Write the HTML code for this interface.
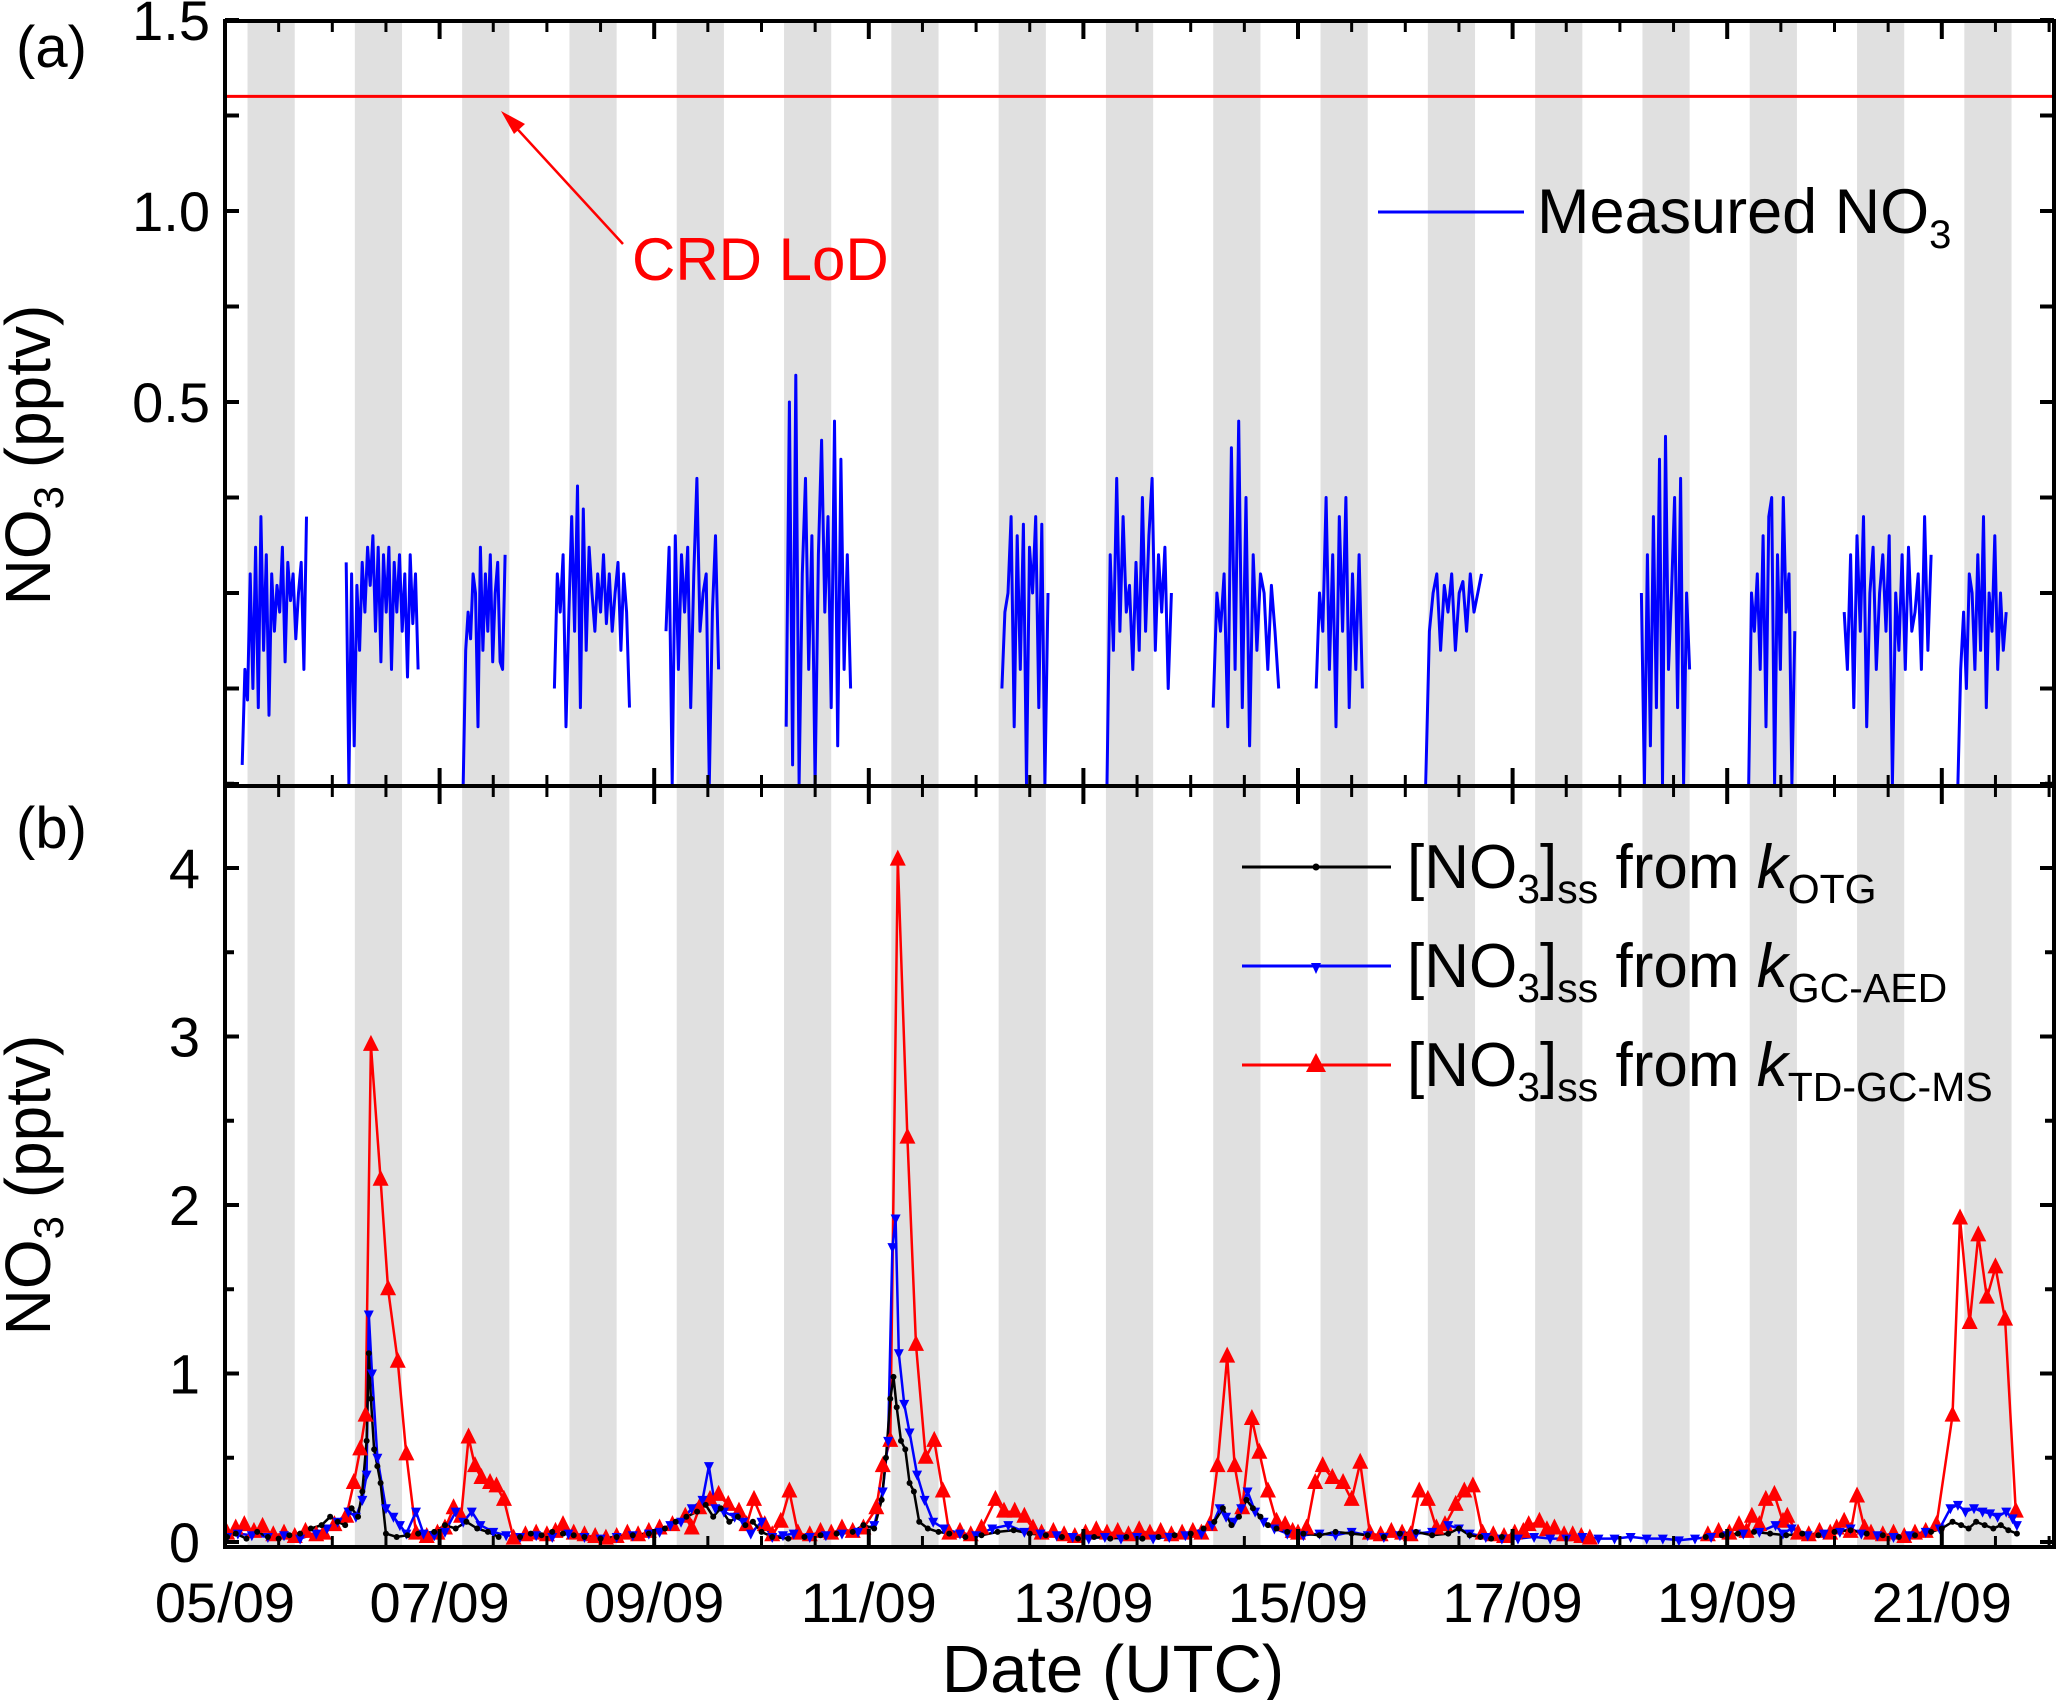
<!DOCTYPE html>
<html><head><meta charset="utf-8"><style>
html,body{margin:0;padding:0;background:#fff}
svg{display:block;font-family:"Liberation Sans",Arial,sans-serif}
</style></head><body>
<svg id="chart" width="2067" height="1700" viewBox="0 0 2067 1700">
<defs>
<clipPath id="clipA"><rect x="225" y="21" width="1829" height="765"/></clipPath>
<clipPath id="clipB"><rect x="225" y="786" width="1829" height="760"/></clipPath>
</defs>
<g id="bands"></g>
<g id="panelA" clip-path="url(#clipA)"></g>
<g id="panelB" clip-path="url(#clipB)"></g>
<g id="axes"></g>
<g id="labels" font-size="56" fill="#000"></g>
</svg>
<script>
// ---- data ----
const nightStart = 0.21, nightEnd = 0.65;
const nightDays = [5,6,7,8,9,10,11,12,13,14,15,16,17,18,19,20,21];
const dateTicks = ["05/09","07/09","09/09","11/09","13/09","15/09","17/09","19/09","21/09"];
const dateTickDays = [5,7,9,11,13,15,17,19,21];
const lodValue = 1.3;
const measStart = [5.16,6.13,7.22,8.07,9.11,10.23,12.24,13.22,14.21,15.17,16.19,18.20,19.20,20.09,21.15];
const measEnd   = [5.76,6.80,7.61,8.77,9.60,10.83,12.67,13.82,14.82,15.60,16.71,18.65,19.63,20.90,21.60];
const meas1 = [-0.45,-0.2,-0.28,0.05,-0.25,0.12,-0.3,0.2,-0.15,0.1,-0.32,0.05,-0.1,0.02,-0.05,0.12,-0.18,0.08,-0.02,0.05,-0.12,0.0,0.08,-0.2,0.2];
const meas2 = [0.08,-0.5,0.05,-0.4,0.02,-0.15,0.08,-0.05,0.12,0.02,0.15,-0.1,0.12,-0.18,0.1,-0.05,0.12,-0.2,0.08,-0.05,0.1,-0.1,0.05,-0.22,0.1,-0.08,0.05,-0.2];
const meas3 = [-0.5,-0.15,-0.05,-0.12,0.05,0.0,-0.35,0.12,-0.15,0.05,-0.1,0.1,-0.18,0.0,0.08,-0.18,-0.2,0.1];
const meas4 = [-0.25,0.05,-0.05,0.1,-0.35,-0.05,0.2,-0.1,0.28,-0.3,0.22,-0.15,0.12,0.0,-0.1,0.05,-0.05,0.1,-0.08,0.05,-0.1,0.0,0.08,-0.15,0.05,-0.05,-0.3];
const meas5 = [-0.1,0.12,-0.5,0.15,-0.2,0.1,-0.05,0.12,-0.3,0.05,0.3,-0.1,0.0,0.05,-0.5,-0.05,0.15,-0.2];
const meas6 = [-0.35,0.5,-0.45,0.57,-0.5,0.05,0.3,-0.2,0.15,-0.5,0.1,0.4,-0.05,0.2,-0.3,0.45,-0.4,0.35,-0.2,0.1,-0.25];
const meas7 = [-0.25,-0.05,0.0,0.2,-0.35,0.15,-0.2,0.18,-0.5,0.12,0.0,0.2,-0.3,0.18,-0.5,0.0];
const meas8 = [-0.5,0.1,-0.15,0.3,-0.1,0.2,-0.05,0.02,-0.2,0.08,-0.15,0.25,-0.1,0.15,0.3,-0.15,0.1,-0.05,0.12,-0.25,0.0];
const meas9 = [-0.3,0.0,-0.1,0.05,-0.35,0.38,-0.2,0.45,-0.3,0.25,-0.4,0.1,-0.15,0.05,0.0,-0.2,0.02,-0.1,-0.25];
const meas10 = [-0.25,0.0,-0.1,0.25,-0.2,0.1,-0.35,0.2,-0.1,0.25,-0.3,0.05,-0.2,0.1,-0.25];
const meas11 = [-0.5,-0.1,0.0,0.05,-0.15,0.02,-0.05,0.05,-0.15,0.0,0.03,-0.1,0.05,-0.05,0.0,0.05];
const meas12 = [0.0,-0.5,0.1,-0.4,0.2,-0.3,0.35,-0.5,0.41,-0.2,0.0,0.25,-0.3,0.3,-0.5,0.0,-0.2];
const meas13 = [-0.5,0.0,-0.1,0.05,-0.2,0.15,-0.35,0.2,0.25,-0.5,0.1,-0.2,0.25,-0.05,0.05,-0.5,-0.1];
const meas14 = [-0.05,-0.2,0.1,-0.3,0.15,-0.1,0.2,-0.35,0.0,0.12,-0.2,0.0,0.1,-0.1,0.15,-0.5,0.0,-0.15,0.1,-0.2,0.12,-0.1,-0.05,0.05,-0.2,0.2,-0.15,0.1];
const meas15 = [-0.5,-0.2,-0.05,-0.25,0.05,0.0,-0.2,0.1,-0.15,0.2,-0.3,0.0,-0.1,0.15,-0.2,0.0,-0.15,-0.05];
const measVals = [meas1,meas2,meas3,meas4,meas5,meas6,meas7,meas8,meas9,meas10,meas11,meas12,meas13,meas14,meas15];

const redT = [5.02,5.10,5.18,5.27,5.35,5.45,5.55,5.65,5.75,5.85,5.92,6.02,6.13,6.20,6.26,6.31,6.36,6.45,6.52,6.61,6.69,6.78,6.88,6.98,7.05,7.13,7.20,7.27,7.33,7.39,7.47,7.53,7.60,7.69,7.80,7.90,8.00,8.08,8.15,8.25,8.35,8.45,8.55,8.65,8.75,8.85,8.95,9.05,9.17,9.29,9.35,9.42,9.52,9.60,9.69,9.79,9.86,9.93,10.03,10.10,10.18,10.26,10.34,10.45,10.55,10.65,10.75,10.85,10.95,11.07,11.13,11.20,11.27,11.36,11.44,11.53,11.61,11.69,11.75,11.85,11.95,12.05,12.18,12.26,12.36,12.45,12.53,12.61,12.72,12.82,12.92,13.02,13.12,13.22,13.32,13.42,13.52,13.62,13.72,13.82,13.92,14.02,14.10,14.18,14.25,14.34,14.41,14.48,14.57,14.64,14.72,14.80,14.88,14.95,15.00,15.08,15.16,15.23,15.32,15.42,15.50,15.58,15.67,15.77,15.87,15.97,16.05,16.13,16.21,16.29,16.37,16.47,16.55,16.63,16.72,16.82,16.92,17.02,17.10,17.15,17.25,17.32,17.39,17.48,17.56,17.64,17.72,18.30,18.82,18.92,19.02,19.11,19.18,19.23,19.30,19.36,19.44,19.52,19.56,19.66,19.76,19.86,19.96,20.02,20.09,20.15,20.21,20.28,20.34,20.45,20.55,20.65,20.75,20.85,20.95,21.10,21.17,21.26,21.34,21.42,21.50,21.59,21.69];
const redV = [0.05,0.08,0.1,0.06,0.09,0.04,0.05,0.03,0.06,0.04,0.05,0.1,0.15,0.35,0.55,0.75,2.95,2.15,1.5,1.07,0.52,0.05,0.03,0.05,0.08,0.2,0.15,0.62,0.45,0.38,0.35,0.33,0.25,0.02,0.04,0.05,0.04,0.06,0.1,0.05,0.04,0.03,0.02,0.03,0.05,0.04,0.06,0.08,0.1,0.15,0.08,0.2,0.25,0.28,0.22,0.18,0.1,0.25,0.1,0.04,0.12,0.3,0.05,0.04,0.06,0.05,0.08,0.06,0.08,0.2,0.45,0.6,4.05,2.4,1.17,0.5,0.6,0.3,0.05,0.06,0.04,0.08,0.25,0.18,0.18,0.15,0.08,0.05,0.06,0.04,0.03,0.05,0.07,0.05,0.06,0.04,0.07,0.05,0.06,0.04,0.05,0.06,0.05,0.1,0.45,1.1,0.45,0.2,0.73,0.53,0.3,0.12,0.1,0.06,0.05,0.08,0.35,0.45,0.38,0.35,0.25,0.47,0.05,0.04,0.06,0.05,0.04,0.3,0.25,0.08,0.1,0.22,0.3,0.33,0.05,0.04,0.03,0.05,0.06,0.1,0.12,0.07,0.08,0.04,0.04,0.03,0.02,null,0.04,0.06,0.05,0.1,0.06,0.15,0.1,0.25,0.28,0.12,0.15,0.05,0.04,0.06,0.05,0.08,0.12,0.06,0.27,0.08,0.05,0.04,0.05,0.03,0.05,0.06,0.1,0.75,1.92,1.3,1.82,1.45,1.63,1.32,0.18];

const blueT = [5.02,5.12,5.25,5.40,5.55,5.70,5.85,5.95,6.05,6.15,6.22,6.28,6.32,6.34,6.37,6.42,6.50,6.57,6.63,6.69,6.78,6.85,6.95,7.05,7.15,7.22,7.30,7.38,7.50,7.62,7.75,7.90,8.05,8.20,8.35,8.50,8.65,8.80,8.95,9.05,9.15,9.25,9.35,9.45,9.51,9.57,9.65,9.75,9.83,9.90,10.00,10.10,10.20,10.30,10.45,10.60,10.75,10.90,11.05,11.13,11.18,11.22,11.25,11.28,11.33,11.38,11.45,11.52,11.60,11.70,11.85,12.00,12.15,12.30,12.45,12.60,12.75,12.90,13.05,13.20,13.35,13.50,13.65,13.80,13.95,14.10,14.20,14.27,14.33,14.40,14.47,14.53,14.60,14.68,14.78,14.90,15.05,15.20,15.35,15.50,15.65,15.80,15.95,16.10,16.25,16.40,16.50,16.60,16.75,16.90,17.05,17.20,17.35,17.50,17.65,17.80,17.95,18.10,18.25,18.40,18.55,18.70,18.85,19.00,19.15,19.30,19.45,19.52,19.60,19.75,19.90,20.05,20.15,20.25,20.40,20.55,20.70,20.85,20.98,21.08,21.15,21.22,21.30,21.38,21.45,21.52,21.60,21.66,21.70];
const blueV = [0.03,0.05,0.04,0.03,0.04,0.02,0.05,0.08,0.12,0.18,0.15,0.25,0.4,1.35,1.0,0.5,0.2,0.15,0.1,0.05,0.18,0.05,0.04,0.06,0.18,0.12,0.18,0.1,0.06,0.04,0.03,0.04,0.03,0.05,0.03,0.02,0.03,0.04,0.05,0.06,0.1,0.12,0.2,0.25,0.45,0.2,0.18,0.15,0.12,0.05,0.12,0.03,0.04,0.05,0.03,0.04,0.05,0.06,0.1,0.3,0.6,1.75,1.92,1.12,0.82,0.65,0.4,0.25,0.12,0.08,0.05,0.04,0.08,0.1,0.06,0.05,0.04,0.03,0.02,0.03,0.02,0.03,0.02,0.03,0.04,0.05,0.1,0.2,0.15,0.12,0.2,0.3,0.18,0.12,0.08,0.05,0.04,0.05,0.04,0.06,0.04,0.03,0.04,0.05,0.06,0.1,0.08,0.05,0.03,0.02,0.02,0.03,0.02,0.02,0.03,0.02,0.02,0.03,0.02,0.02,0.01,0.02,0.03,0.04,0.05,0.06,0.1,0.05,0.08,0.04,0.05,0.06,0.08,0.05,0.04,0.03,0.04,0.06,0.08,0.2,0.22,0.18,0.2,0.18,0.17,0.15,0.18,0.14,0.1];

const blackT = [5.02,5.10,5.20,5.30,5.40,5.50,5.60,5.70,5.80,5.90,5.98,6.05,6.12,6.18,6.24,6.28,6.32,6.34,6.36,6.39,6.42,6.45,6.50,6.60,6.70,6.80,6.95,7.05,7.15,7.25,7.35,7.45,7.55,7.65,7.75,7.85,7.95,8.05,8.15,8.25,8.35,8.50,8.65,8.80,8.95,9.10,9.20,9.30,9.40,9.48,9.55,9.62,9.70,9.78,9.85,9.92,10.00,10.10,10.25,10.40,10.55,10.70,10.85,10.95,11.05,11.12,11.16,11.20,11.23,11.26,11.30,11.34,11.38,11.42,11.47,11.55,11.65,11.75,11.90,12.05,12.20,12.35,12.50,12.65,12.80,12.95,13.10,13.25,13.40,13.55,13.70,13.85,14.00,14.12,14.22,14.30,14.38,14.45,14.52,14.58,14.65,14.72,14.80,14.90,15.05,15.20,15.35,15.50,15.65,15.80,15.95,16.10,16.25,16.40,16.50,16.60,16.70,16.80,16.90,17.80,18.80,18.95,19.10,19.25,19.40,19.55,19.70,19.85,20.00,20.15,20.30,20.45,20.60,20.75,20.90,21.00,21.10,21.18,21.25,21.32,21.40,21.48,21.55,21.62,21.70];
const blackV = [0.03,0.05,0.02,0.06,0.03,0.02,0.04,0.05,0.08,0.1,0.15,0.12,0.1,0.2,0.15,0.3,0.6,1.12,0.85,0.55,0.45,0.35,0.05,0.03,0.04,0.05,0.06,0.1,0.08,0.12,0.08,0.06,0.03,null,0.03,0.05,0.04,0.06,0.05,0.04,0.03,0.02,0.03,0.04,0.05,0.08,0.12,0.15,0.18,0.22,0.15,0.2,0.12,0.15,0.1,0.12,0.06,0.03,0.02,0.03,0.04,0.05,0.06,0.1,0.08,0.25,0.5,0.85,0.98,0.8,0.6,0.55,0.35,0.3,0.12,0.08,0.06,0.05,0.03,0.04,0.06,0.07,0.05,0.04,0.03,0.02,0.03,0.02,0.03,0.02,0.03,0.04,0.05,0.08,0.12,0.2,0.1,0.15,0.25,0.2,0.15,0.1,0.08,0.06,0.05,0.04,0.06,0.05,0.04,0.03,0.05,0.06,0.04,0.05,0.08,0.04,0.03,0.02,0.03,null,0.03,0.04,0.05,0.06,0.05,0.04,0.05,0.04,0.06,0.07,0.05,0.04,0.03,0.04,0.06,0.08,0.12,0.1,0.08,0.12,0.1,0.08,0.1,0.07,0.05];

// ---- scales ----
const X0=225, X1=2054, DAY=107.3;
const xS = d => X0 + (d-5)*DAY;
const yA = v => 593 - v*382;
const yB = v => 1542 - v*168.5;
const NS='http://www.w3.org/2000/svg';
function mk(tag, attrs, parent){const e=document.createElementNS(NS,tag);for(const k in attrs)e.setAttribute(k,attrs[k]);parent.appendChild(e);return e;}

const bands=document.getElementById('bands');
nightDays.forEach(d=>{
  const r=mk('rect',{x:xS(d+nightStart),y:21,width:(nightEnd-nightStart)*DAY,height:1525,fill:'#e0e0e0'},bands);
  
  
});

// panel A
const pA=document.getElementById('panelA');
const lod=mk('line',{x1:X0,x2:X1,y1:yA(lodValue),y2:yA(lodValue),stroke:'#ff0000','stroke-width':3},pA);


measVals.forEach((vals,i)=>{
  const n=vals.length, s=measStart[i], e=measEnd[i];
  const pts=vals.map((v,j)=>xS(s+(e-s)*j/(n-1)).toFixed(1)+','+yA(v).toFixed(1)).join(' ');
  const pl=mk('polyline',{points:pts,fill:'none',stroke:'#0000ff','stroke-width':3,'stroke-linejoin':'round'},pA);
  
  
});

// panel B
const pB=document.getElementById('panelB');
function series(T,V,color,name){
  let segs=[],cur=[];
  T.forEach((t,i)=>{ if(V[i]===null){if(cur.length)segs.push(cur);cur=[];} else cur.push([xS(t),yB(V[i])]); });
  if(cur.length)segs.push(cur);
  segs.forEach(sg=>{
    const pl=mk('polyline',{points:sg.map(p=>p[0].toFixed(1)+','+p[1].toFixed(1)).join(' '),fill:'none',stroke:color,'stroke-width':2.5,'stroke-linejoin':'round'},pB);
    
    
  });
  return segs;
}
const redSegs=series(redT,redV,'#ff0000','ktdgcms');
const blueSegs=series(blueT,blueV,'#0000ff','kgcaed');
const blackSegs=series(blackT,blackV,'#000000','kotg');
redSegs.flat().forEach(p=>{
  const m=mk('polygon',{points:`${p[0]},${p[1]-10} ${p[0]-8},${p[1]+6} ${p[0]+8},${p[1]+6}`,fill:'#ff0000'},pB);
  
  
});
blueSegs.flat().forEach(p=>{
  const m=mk('polygon',{points:`${p[0]},${p[1]+6} ${p[0]-5},${p[1]-4} ${p[0]+5},${p[1]-4}`,fill:'#0000ff'},pB);
  
  
});
blackSegs.flat().forEach(p=>{
  const m=mk('circle',{cx:p[0],cy:p[1],r:3,fill:'#000'},pB);
  
  
});

// axes
const ax=document.getElementById('axes');
[[21,786],[786,1547]].forEach(([t,b])=>{
  const r=mk('rect',{x:X0,y:t,width:X1-X0,height:b-t,fill:'none',stroke:'#000','stroke-width':4},ax);
  
  
});
for(let h=0;h<=34;h++){
  const d=5+h*0.5, x=xS(d); if(x>X1-2) break;
  const major=(h%4===0), L=major?18:11;
  [[21,1],[786,-1],[786,1],[1547,-1]].forEach(([y,dir])=>{
    const tk=mk('line',{x1:x,x2:x,y1:y,y2:y+dir*L,stroke:'#000','stroke-width':major?4:3},ax);
    
    
  });
}
for(let v=-0.5;v<=1.5001;v+=0.25){
  const y=yA(v);
  [[X0,1],[X1,-1]].forEach(([x,dir])=>{
    const tk=mk('line',{x1:x,x2:x+dir*14,y1:y,y2:y,stroke:'#000','stroke-width':4},ax);
    
    
  });
}
for(let v=0;v<=4.5001;v+=0.5){
  const y=yB(v), major=Math.abs(v-Math.round(v))<1e-6;
  [[X0,1],[X1,-1]].forEach(([x,dir])=>{
    const tk=mk('line',{x1:x,x2:x+dir*(major?14:9),y1:y,y2:y,stroke:'#000','stroke-width':4},ax);
    
    
  });
}

// labels
const lb=document.getElementById('labels');
function txt(s,x,y,attrs,name){const t=mk('text',Object.assign({x:x,y:y},attrs||{}),lb);t.innerHTML=s;return t;}
["1.5","1.0","0.5"].forEach((s,i)=>txt(s,210,yA([1.5,1.0,0.5][i])+20,{'text-anchor':'end'},'y-tick-label-a'));
[0,1,2,3,4].forEach(v=>txt(String(v),200,yB(v)+20,{'text-anchor':'end'},'y-tick-label-b'));
dateTicks.forEach((s,i)=>txt(s,xS(dateTickDays[i]),1622,{'text-anchor':'middle','font-size':56},'x-tick-label'));
txt('Date (UTC)',1113,1692,{'text-anchor':'middle','font-size':67},'x-axis-title');
txt('(a)',16,67,{'font-size':58},'panel-a-label');
txt('(b)',16,848,{'font-size':58},'panel-b-label');
txt('NO<tspan font-size="42" dy="13">3</tspan><tspan dy="-13"> (pptv)</tspan>',0,0,{'font-size':64,'text-anchor':'middle','transform':'translate(50,455) rotate(-90)'},'y-axis-title-a');
txt('NO<tspan font-size="42" dy="13">3</tspan><tspan dy="-13"> (pptv)</tspan>',0,0,{'font-size':64,'text-anchor':'middle','transform':'translate(50,1185) rotate(-90)'},'y-axis-title-b');
txt('CRD LoD',632,280,{'font-size':60,fill:'#ff0000'},'crd-lod-label');
const arr=mk('line',{x1:623,y1:244,x2:510,y2:121,stroke:'#ff0000','stroke-width':2.5},lb);


const ah=mk('polygon',{points:'501,111 525,124 514,134',fill:'#ff0000'},lb);


// legend a
const la=mk('line',{x1:1378,x2:1524,y1:212,y2:212,stroke:'#0000ff','stroke-width':3},lb);


txt('Measured NO<tspan font-size="40" dy="15">3</tspan>',1537,233,{'font-size':63},'legend-measured-label');
// legend b
const legY=[867,966,1065], legCol=['#000','#0000ff','#ff0000'], legSub=['OTG','GC-AED','TD-GC-MS'];
legY.forEach((y,i)=>{
  const l=mk('line',{x1:1242,x2:1391,y1:y,y2:y,stroke:legCol[i],'stroke-width':3},lb);
  
  
  const cx=1316;
  let m;
  if(i===0) m=mk('circle',{cx:cx,cy:y,r:3.5,fill:'#000'},lb);
  else if(i===1) m=mk('polygon',{points:`${cx},${y+8} ${cx-5},${y-3} ${cx+5},${y-3}`,fill:'#0000ff'},lb);
  else m=mk('polygon',{points:`${cx},${y-12} ${cx-10},${y+7} ${cx+10},${y+7}`,fill:'#ff0000'},lb);
  
  
  txt('[NO<tspan font-size="41" dy="15">3</tspan><tspan dy="-15">]</tspan><tspan font-size="41" dy="15">ss</tspan><tspan dy="-15"> from </tspan><tspan font-style="italic">k</tspan><tspan font-size="41" dy="15">'+legSub[i]+'</tspan>',1407,y+21,{'font-size':62},'legend-label-'+legSub[i].toLowerCase());
});
</script>
</body></html>
